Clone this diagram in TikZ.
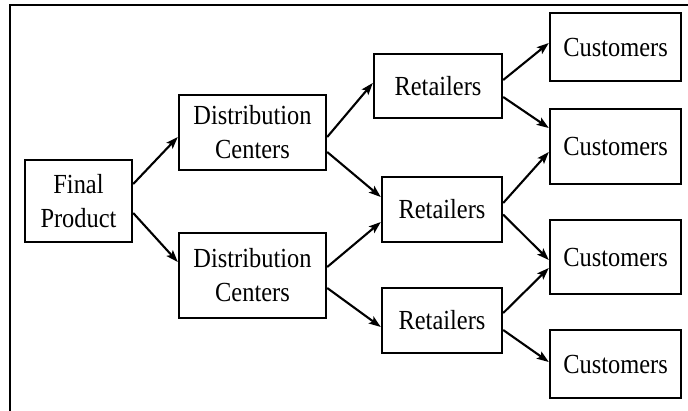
\documentclass[tikz,border=0pt]{standalone}
\usepackage{fontspec}
\setmainfont{Liberation Serif}[FakeStretch=0.885]
\usetikzlibrary{arrows.meta}

\tikzset{
  stagebox/.style={draw, line width=2.4pt, inner sep=0pt, align=center,
    font=\fontsize{27.6}{34}\selectfont},
  flow/.style={line width=2.1pt, -{Stealth[length=12pt,width=8.5pt,inset=2.5pt]}}
}

\begin{document}
\begin{tikzpicture}[x=1pt, y=-1pt]

\useasboundingbox (0,0) rectangle (688,410);

% frame, cut off at the right and bottom
\draw[line width=2.2pt] (10,420) -- (10,5) -- (700,5);

\node[stagebox, minimum width=107pt, minimum height=82pt] (fp) at (78.5,201) {Final\\Product};

\node[stagebox, minimum width=147pt, minimum height=75pt] (dc1) at (252.5,132.5) {Distribution\\Centers};
\node[stagebox, minimum width=147pt, minimum height=85pt] (dc2) at (252.5,275.5) {Distribution\\Centers};

\node[stagebox, minimum width=128pt, minimum height=64pt] (r1) at (438,86) {Retailers};
\node[stagebox, minimum width=120pt, minimum height=65pt] (r2) at (442,209.5) {Retailers};
\node[stagebox, minimum width=120pt, minimum height=65pt] (r3) at (442,320.5) {Retailers};

\foreach \n/\y/\h in {c1/47/68, c2/146.5/75, c3/257/74, c4/364/68}
  \node[stagebox, minimum width=131pt, minimum height=\h pt] (\n) at (615.5,\y) {Customers};

% from/shift -> to/shift
\foreach \a/\sa/\b/\sb in {
  fp/17/dc1/-4.5, fp/-12/dc2/13.5,
  dc1/-4.5/r1/3, dc1/-19.5/r2/12.5,
  dc2/8.5/r2/-12.5, dc2/-12.5/r3/-6.5,
  r1/6/c1/4, r1/-11/c2/18.5,
  r2/6.5/c2/-5.5, r2/-5/c3/-3,
  r3/7.5/c3/-11, r3/-9.5/c4/2}
  \draw[flow] ([yshift=\sa pt]\a.east) -- ([yshift=\sb pt]\b.west);

\end{tikzpicture}
\end{document}
